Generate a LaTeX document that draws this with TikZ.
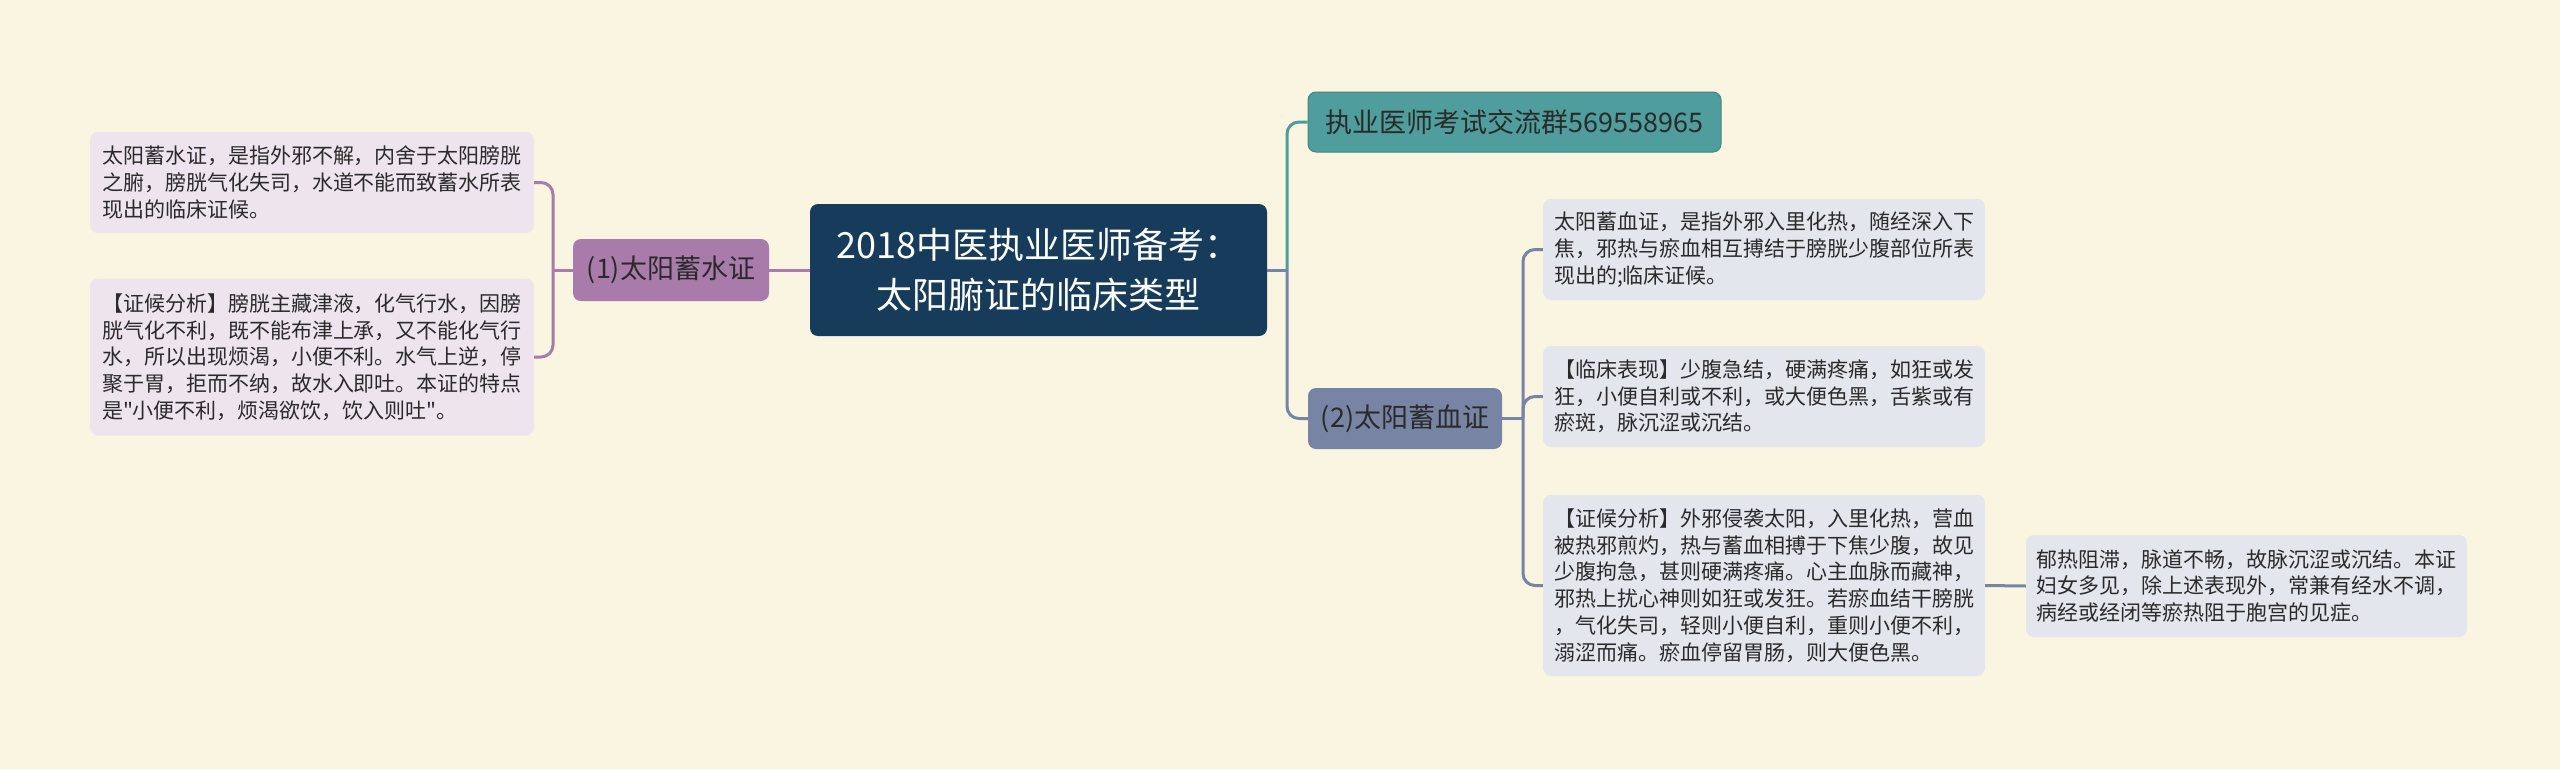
\documentclass[tikz,border=0pt]{standalone}
\usepackage{fontspec}
\newfontfamily\cjkf{Noto Sans CJK SC}
\definecolor{bgc}{HTML}{F9F5E1}
\definecolor{rootc}{HTML}{173C5B}
\definecolor{purc}{HTML}{A87BAA}
\definecolor{purlight}{HTML}{EEE4EE}
\definecolor{tealc}{HTML}{4F9D9D}
\definecolor{slatec}{HTML}{7884A3}
\definecolor{greylight}{HTML}{E4E6EE}
\definecolor{txtc}{HTML}{2A2A2A}
\tikzset{
  rootbox/.style={fill=rootc, rounded corners=8pt, text=white, align=center, inner sep=0pt,
    font=\cjkf\fontsize{36}{50}\selectfont},
  midbox/.style={rounded corners=8pt, text=txtc, align=center, inner sep=0pt,
    font=\cjkf\fontsize{27}{32}\selectfont},
  leafbox/.style={rounded corners=8pt, text=txtc, align=left, inner sep=0pt,
    font=\cjkf\fontsize{21}{26.7}\selectfont},
  conn/.style={line width=3pt, rounded corners=12pt},
}
\begin{document}
\begin{tikzpicture}[x=1pt,y=-1pt]
\fill[bgc] (0,0) rectangle (2560,769);
\useasboundingbox (0,0) rectangle (2560,769);

% nodes
\node[rootbox, minimum width=457pt, minimum height=132pt] (C) at (1038.5,270) {2018中医执业医师备考：\\太阳腑证的临床类型};
\node[midbox, fill=purc, minimum width=196pt, minimum height=62pt] (N1) at (671,270) {(1)太阳蓄水证};
\node[leafbox, fill=purlight, minimum width=444pt, minimum height=101pt] (L1) at (312,182.5)
 {太阳蓄水证，是指外邪不解，内舍于太阳膀胱\\之腑，膀胱气化失司，水道不能而致蓄水所表\\现出的临床证候。};
\node[leafbox, fill=purlight, minimum width=444pt, minimum height=157pt] (L2) at (312,357)
 {【证候分析】膀胱主藏津液，化气行水，因膀\\胱气化不利，既不能布津上承，又不能化气行\\水，所以出现烦渴，小便不利。水气上逆，停\\聚于胃，拒而不纳，故水入即吐。本证的特点\\是"小便不利，烦渴欲饮，饮入则吐"。};
\node[midbox, fill=tealc, draw=tealc!85!black, line width=1pt, minimum width=413pt, minimum height=60pt] (T) at (1514.5,122) {执业医师考试交流群569558965};
\node[midbox, fill=slatec, minimum width=194pt, minimum height=61pt] (N2) at (1405,418.5) {(2)太阳蓄血证};
\node[leafbox, fill=greylight, minimum width=442pt, minimum height=101pt] (R1) at (1764,249.5)
 {太阳蓄血证，是指外邪入里化热，随经深入下\\焦，邪热与瘀血相互搏结于膀胱少腹部位所表\\现出的;临床证候。};
\node[leafbox, fill=greylight, minimum width=442pt, minimum height=101pt] (R2) at (1764,396.5)
 {【临床表现】少腹急结，硬满疼痛，如狂或发\\狂，小便自利或不利，或大便色黑，舌紫或有\\瘀斑，脉沉涩或沉结。};
\node[leafbox, fill=greylight, minimum width=442pt, minimum height=181pt] (R3) at (1764,585.5)
 {【证候分析】外邪侵袭太阳，入里化热，营血\\被热邪煎灼，热与蓄血相搏于下焦少腹，故见\\少腹拘急，甚则硬满疼痛。心主血脉而藏神，\\邪热上扰心神则如狂或发狂。若瘀血结干膀胱\\，气化失司，轻则小便自利，重则小便不利，\\溺涩而痛。瘀血停留胃肠，则大便色黑。};
\node[leafbox, fill=greylight, minimum width=441pt, minimum height=102pt] (R4) at (2246.5,586)
 {郁热阻滞，脉道不畅，故脉沉涩或沉结。本证\\妇女多见，除上述表现外，常兼有经水不调，\\病经或经闭等瘀热阻于胞宫的见症。};

% junctions
\coordinate (j1) at (553,270);
\coordinate (j0) at (1287,270);
\coordinate (j2) at (1523,418.5);

% connectors
\draw[conn, purc] (C.west) -- (N1.east);
\draw[conn, purc] (N1.west) -- (j1);
\draw[conn, purc] (j1) |- (L1.east);
\draw[conn, purc] (j1) |- (L2.east);

\draw[conn, slatec] (C.east) -- (j0);
\draw[conn, tealc] (j0) |- (T.west);
\draw[conn, slatec] (j0) |- (N2.west);

\draw[conn, slatec] (N2.east) -- (j2);
\draw[conn, slatec] (j2) |- (R1.west);
\draw[conn, slatec] (j2) |- (R2.west);
\draw[conn, slatec] (j2) |- (R3.west);
\draw[conn, slatec] (R3.east) -- (R4.west);
\end{tikzpicture}
\end{document}
